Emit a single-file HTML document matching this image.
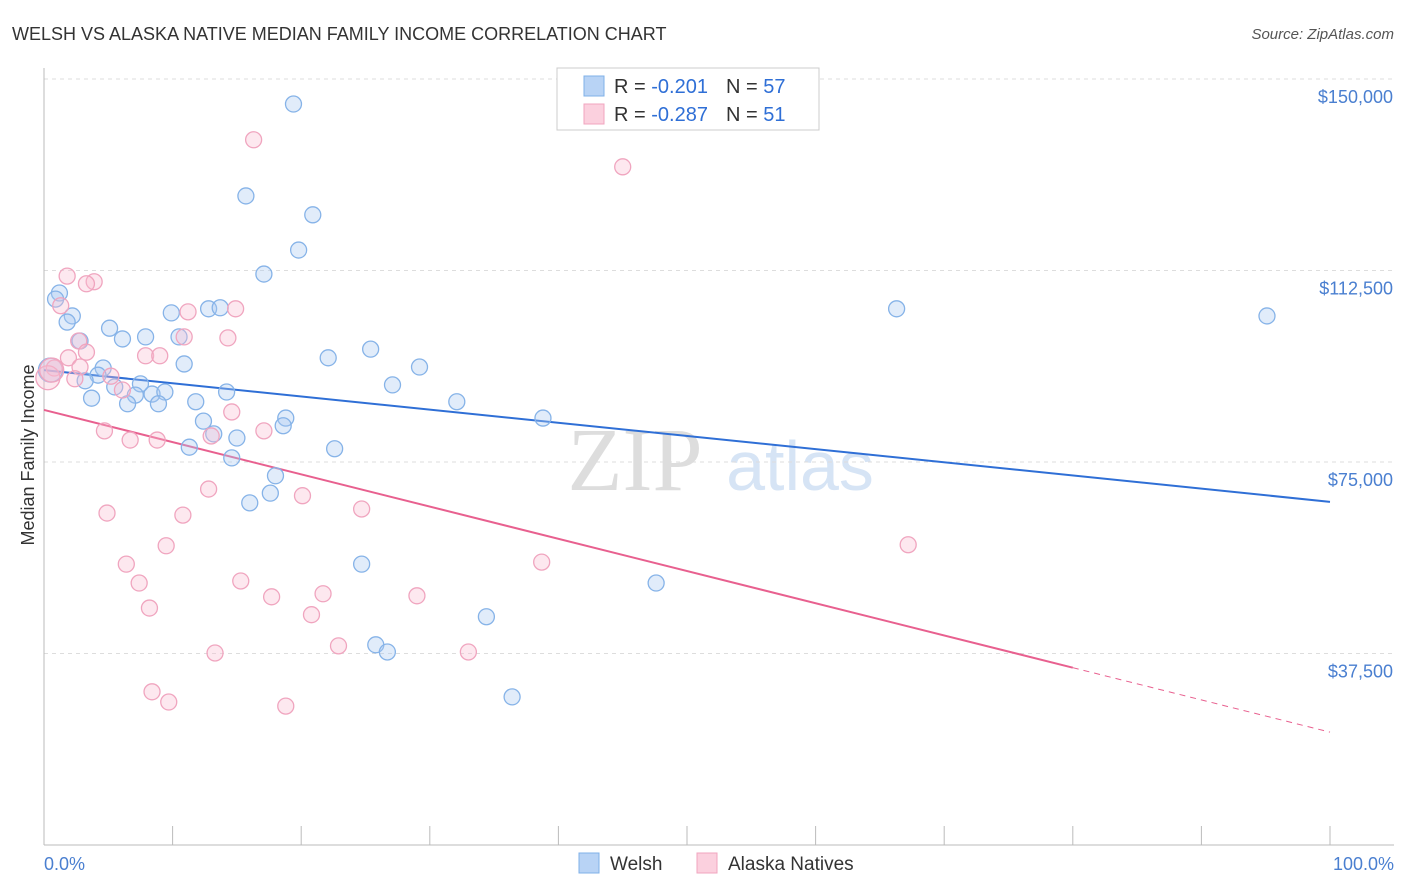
<!DOCTYPE html>
<html><head><meta charset="utf-8"><style>
body{margin:0;background:#fff;font-family:"Liberation Sans",sans-serif;}
svg{display:block}
</style></head><body>
<svg id="chart" width="1406" height="892">
<text x="12" y="40" font-size="18" fill="#333">WELSH VS ALASKA NATIVE MEDIAN FAMILY INCOME CORRELATION CHART</text>
<text x="1394" y="39" font-size="15" fill="#555" font-style="italic" text-anchor="end">Source: ZipAtlas.com</text>
<text x="34" y="455" font-size="18" fill="#333" transform="rotate(-90 34 455)" text-anchor="middle">Median Family Income</text>
<g><text x="635" y="490" font-size="90" fill="#ddd" font-family="Liberation Serif" text-anchor="middle">ZIP</text><text x="800" y="490" font-size="70" fill="#d6e4f5" text-anchor="middle">atlas</text></g>
<g id="grid"></g><g id="axes"></g><g id="lines"></g><g id="pts"></g>
<g>
<rect x="557" y="68" width="262" height="62" fill="#fff" stroke="#ccc"/>
<rect x="584" y="76" width="20" height="20" fill="#b8d3f5" stroke="#7fb0e8"/>
<rect x="584" y="104" width="20" height="20" fill="#fbd0de" stroke="#f0a5bf"/>
<text x="614" y="93" font-size="20" fill="#333">R = <tspan fill="#2f6fd6">-0.201</tspan><tspan dx="18">N = </tspan><tspan fill="#2f6fd6">57</tspan></text>
<text x="614" y="121" font-size="20" fill="#333">R = <tspan fill="#2f6fd6">-0.287</tspan><tspan dx="18">N = </tspan><tspan fill="#2f6fd6"> 51</tspan></text>
</g>
<g>
<rect x="579" y="853" width="20" height="20" fill="#b8d3f5" stroke="#7fb0e8"/>
<text x="610" y="870" font-size="19" fill="#333">Welsh</text>
<rect x="697" y="853" width="20" height="20" fill="#fbd0de" stroke="#f0a5bf"/>
<text x="728" y="870" font-size="19" fill="#333">Alaska Natives</text>
</g>
<text x="44" y="870" font-size="18" fill="#4a7fd0">0.0%</text>
<text x="1394" y="870" font-size="18" fill="#4a7fd0" text-anchor="end">100.0%</text>
</svg>
<script>
const yTicks=[150,112.5,75,37.5];
const yTickLabels=["$150,000","$112,500","$75,000","$37,500"];
const welshX=[19.4,15.7,20.9,19.8,17.1,1.2,0.9,2.2,1.8,5.1,6.1,7.9,9.9,12.8,13.7,10.5,2.8,22.1,25.4,29.2,10.9,4.6,4.2,3.2,7.5,5.5,27.1,14.2,3.7,7.1,8.4,9.4,6.5,8.9,11.8,32.1,38.8,12.4,18.8,18.6,13.2,15.0,11.3,22.6,14.6,18.0,17.6,16.0,24.7,47.6,34.4,25.8,26.7,36.4,66.3,95.1,0.5];
const welshY=[145.1,127.1,123.4,116.5,111.8,108.1,106.9,103.6,102.4,101.2,99.1,99.5,104.2,105.0,105.2,99.5,98.7,95.4,97.1,93.6,94.2,93.4,92.0,90.9,90.3,89.7,90.1,88.7,87.5,88.1,88.3,88.7,86.4,86.4,86.8,86.8,83.6,83.0,83.6,82.1,80.5,79.7,77.9,77.6,75.8,72.3,68.9,67.0,55.0,51.3,44.7,39.2,37.8,29.0,105.0,103.6,93.0];
const alaskaX=[16.3,45.0,1.8,3.9,3.3,1.3,11.2,14.9,2.7,10.9,14.3,3.3,1.9,7.9,9.0,2.8,0.8,2.4,5.2,6.1,14.6,4.7,6.7,8.8,17.1,13.0,12.8,20.1,24.7,4.9,10.8,9.5,38.7,67.2,6.4,7.4,15.3,17.7,21.7,29.0,8.2,20.8,13.3,22.9,33.0,8.4,9.7,18.8,0.3,0.6];
const alaskaY=[138.1,132.8,111.4,110.3,109.9,105.6,104.4,105.0,98.7,99.5,99.3,96.5,95.4,95.8,95.8,93.6,93.4,91.3,91.8,89.1,84.8,81.1,79.3,79.3,81.1,80.1,69.7,68.4,65.8,65.0,64.6,58.6,55.4,58.8,55.0,51.3,51.7,48.6,49.2,48.8,46.4,45.1,37.6,39.0,37.8,30.0,28.0,27.2,91.5,93.0];
const welshTrend=[93.0,67.2];
const alaskaTrend=[85.2,22.1];
const alaskaSolidEnd=80;
const NS="http://www.w3.org/2000/svg";
const X=p=>44+p*12.86, Y=v=>845-v*5.1067;
function mk(t,a,p){const e=document.createElementNS(NS,t);for(const k in a)e.setAttribute(k,a[k]);document.getElementById(p).appendChild(e);return e;}
yTicks.forEach((v,i)=>{
 const l=mk('line',{x1:44,x2:1394,y1:Y(v),y2:Y(v),stroke:'#ddd','stroke-dasharray':'4,4'},'grid');
 
 
 const t=mk('text',{x:1393,y:Y(v)+24,'font-size':18,fill:'#4a7fd0','text-anchor':'end'},'grid');
 t.textContent=yTickLabels[i];
 
 
});
const ax=mk('line',{x1:44,x2:1394,y1:845,y2:845,stroke:'#bbb'},'axes');


const ay=mk('line',{x1:44,x2:44,y1:68,y2:845,stroke:'#bbb'},'axes');


for(let i=0;i<=10;i++){const t=mk('line',{x1:X(i*10),x2:X(i*10),y1:826,y2:845,stroke:'#bbb'},'axes');
 
 }
function pts(xs,ys,fill,stroke,name){xs.forEach((x,i)=>{const big=x<0.7;
 const c=mk('circle',{cx:X(x),cy:Y(ys[i]),r:big?12:8,fill:fill,stroke:stroke,'stroke-width':1.3},'pts');
 
 });}
pts(welshX,welshY,'rgba(170,200,240,0.35)','#86b3e8','welsh-point');
pts(alaskaX,alaskaY,'rgba(248,190,210,0.35)','#f0a5bf','alaska-point');
const wl=mk('line',{x1:X(0),y1:Y(welshTrend[0]),x2:X(100),y2:Y(welshTrend[1]),stroke:'#2f6fd6','stroke-width':2},'lines');


const ym=alaskaTrend[0]+(alaskaTrend[1]-alaskaTrend[0])*alaskaSolidEnd/100;
const al=mk('line',{x1:X(0),y1:Y(alaskaTrend[0]),x2:X(alaskaSolidEnd),y2:Y(ym),stroke:'#e8608f','stroke-width':2},'lines');


const ad=mk('line',{x1:X(alaskaSolidEnd),y1:Y(ym),x2:X(100),y2:Y(alaskaTrend[1]),stroke:'#e8608f','stroke-width':1,'stroke-dasharray':'6,5'},'lines');


</script>
</body></html>
